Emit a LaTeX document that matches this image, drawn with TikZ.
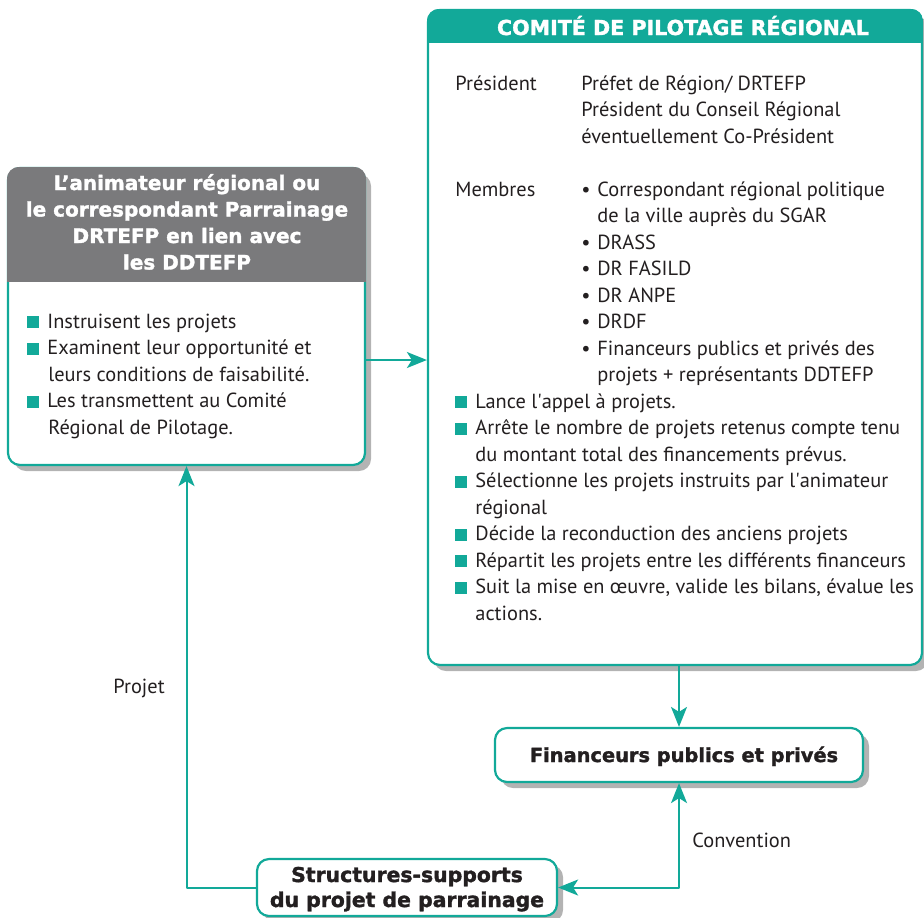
\documentclass[tikz,border=0pt]{standalone}
\usepackage{fontspec}
\setmainfont{PT Sans}
\newfontfamily\grasfont{DejaVu Sans}[BoldFeatures={FakeBold=1.6}]
\usetikzlibrary{positioning,shadows,arrows.meta,fit}
\definecolor{sarcelle}{HTML}{12A999}
\definecolor{gristitre}{HTML}{7A7A7C}
\definecolor{encre}{HTML}{231F20}
\newcommand{\carre}{\textcolor{sarcelle}{\rule{6pt}{6pt}}\hspace{4pt}}
\newcommand{\puce}{\makebox[8pt][l]{\textbullet}}
\tikzset{
  boite/.style={draw=sarcelle, line width=1.1pt, rounded corners=6pt, fill=white, inner sep=0pt,
    drop shadow={shadow xshift=3pt, shadow yshift=-3pt, opacity=.6}},
  pointe/.style={-{Stealth[length=10pt,width=8pt,inset=2.5pt]}},
  lien/.style={draw=sarcelle, line width=1pt, pointe},
  ligne/.style={anchor=base west, inner sep=0pt, text=encre, font=\fontsize{10.2}{13.25}\selectfont},
  titre/.style={anchor=base, inner sep=0pt, font=\grasfont\bfseries\fontsize{10}{13.25}\selectfont},
}
\begin{document}
\begin{tikzpicture}[x=0.5pt, y=-0.5pt, line join=round]
	\useasboundingbox (0,0) rectangle (924,917);
	% les boites
	\node[boite, fit={(8,168) (365,465)}] (anim) {};
	\node[boite, fit={(428,10) (922,665)}] (comite) {};
	\node[boite, fit={(495,728) (863,782)}] (fin) {};
	\node[boite, fit={(257,859) (557,916)}] (struct) {};
	% bandeaux de titre
	\begin{scope}
		\clip[rounded corners=6pt] (anim.south west) rectangle (anim.north east);
		\fill[gristitre] (anim.north west) rectangle (anim.east |- 0,282);
	\end{scope}
	\begin{scope}
		\clip[rounded corners=6pt] (comite.south west) rectangle (comite.north east);
		\fill[sarcelle] (comite.north west) rectangle (comite.east |- 0,43);
	\end{scope}
	\node[titre, text=white] (animt1) at (187,190) {L’animateur régional ou};
	\node[titre, text=white] (animt2) at (187,216.5) {le correspondant Parrainage};
	\node[titre, text=white] (animt3) at (187,243) {DRTEFP en lien avec};
	\node[titre, text=white] (animt4) at (187,269.5) {les DDTEFP};
	\node[titre, text=white, font=\grasfont\bfseries\fontsize{10.3}{12}\selectfont] (comitet) at (683,35) {COMITÉ DE PILOTAGE RÉGIONAL};
	% texte de l'animateur
	\node[ligne] (a1) at (27,328) {\carre Instruisent les projets};
	\node[ligne] (a2) at (27,354.5) {\carre Examinent leur opportunité et};
	\node[ligne] (a3) at (48,381) {leurs conditions de faisabilité.};
	\node[ligne] (a4) at (27,407.5) {\carre Les transmettent au Comité};
	\node[ligne] (a5) at (48,434) {Régional de Pilotage.};
	% texte du comite
	\node[ligne] (p0) at (455,90) {Président};
	\node[ligne] (p1) at (581,90) {Préfet de Région/ DRTEFP};
	\node[ligne] (p2) at (581,116.5) {Président du Conseil Régional};
	\node[ligne] (p3) at (581,143) {éventuellement Co-Président};
	\node[ligne] (m0) at (455,196) {Membres};
	\node[ligne] (m1) at (581,196) {\puce Correspondant régional politique};
	\node[ligne] (m2) at (597,222.5) {de la ville auprès du SGAR};
	\node[ligne] (m3) at (581,249) {\puce DRASS};
	\node[ligne] (m4) at (581,275.5) {\puce DR FASILD};
	\node[ligne] (m5) at (581,302) {\puce DR ANPE};
	\node[ligne] (m6) at (581,328.5) {\puce DRDF};
	\node[ligne] (m7) at (581,355) {\puce Financeurs publics et privés des};
	\node[ligne] (m8) at (597,381.5) {projets + représentants DDTEFP};
	\node[ligne] (r1) at (455,408) {\carre Lance l\textquotesingle appel à projets.};
	\node[ligne] (r2) at (455,434.5) {\carre Arrête le nombre de projets retenus compte tenu};
	\node[ligne] (r3) at (475,461) {du montant total des financements prévus.};
	\node[ligne] (r4) at (455,487.5) {\carre Sélectionne les projets instruits par l\textquotesingle animateur};
	\node[ligne] (r5) at (475,514) {régional};
	\node[ligne] (r6) at (455,540.5) {\carre Décide la reconduction des anciens projets};
	\node[ligne] (r7) at (455,567) {\carre Répartit les projets entre les différents financeurs};
	\node[ligne] (r8) at (455,593.5) {\carre Suit la mise en œuvre, valide les bilans, évalue les};
	\node[ligne] (r9) at (475,620) {actions.};
	% financeurs et structures
	\node[titre, text=encre, font=\grasfont\bfseries\fontsize{9.7}{13.25}\selectfont] (fint) at (684,762) {Financeurs publics et privés};
	\node[titre, text=encre, font=\grasfont\bfseries\fontsize{10.2}{13.25}\selectfont] (structt1) at (407,882) {Structures-supports};
	\node[titre, text=encre, font=\grasfont\bfseries\fontsize{10.2}{13.25}\selectfont] (structt2) at (407,907) {du projet de parrainage};
	% liens
	\coordinate (niv) at (0,360);
	\draw[lien] (anim.east |- niv) -- (comite.west |- niv);
	\draw[lien] (fin.north |- comite.south) -- (fin.north);
	\draw[lien, {Stealth[length=10pt,width=8pt,inset=2.5pt]}-{Stealth[length=10pt,width=8pt,inset=2.5pt]}] (struct.east) -- (fin.south |- struct.east) -- (fin.south);
	\draw[lien] (struct.west) -- (struct.west -| anim.south) -- (anim.south);
	\node[ligne] (projet) at (113,693) {Projet};
	\node[ligne] (conv) at (692,847) {Convention};
\end{tikzpicture}
\end{document}
